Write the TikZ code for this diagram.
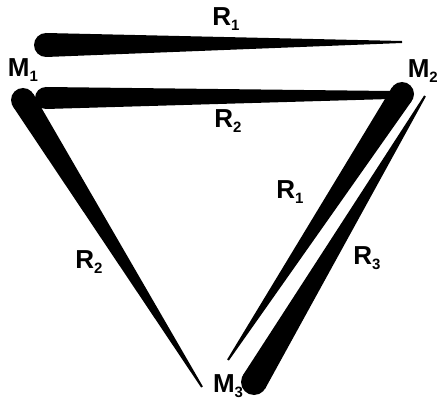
\documentclass[tikz,border=0pt]{standalone}
\usepackage{fontspec}
\setmainfont{Liberation Sans}
\usetikzlibrary{calc}
\newcommand\lbl[2]{#1\raisebox{-0.2em}{\fontsize{15}{15}\selectfont #2}}
\newcommand\taper[4]{%
  \fill[black] (#1) circle (#3pt);
  \fill[black] ($(#1)!#3pt!90:(#2)$) -- ($(#2)!#4pt!-90:(#1)$) -- ($(#2)!#4pt!90:(#1)$) -- ($(#1)!#3pt!-90:(#2)$) -- cycle;}
\begin{document}
\begin{tikzpicture}[x=1pt,y=-1pt,
  lab/.style={inner sep=0pt,font=\fontsize{26}{26}\selectfont\bfseries}]
\fill[white] (0,0) rectangle (439,401);
\useasboundingbox (0,0) rectangle (439,401);
% vertex labels
\node[lab] (m1) at (23,70) {\lbl{M}{1}};
\node[lab,anchor=east] (m2) at (438,71) {\lbl{M}{2}};
\node[lab] (m3) at (228,386) {\lbl{M}{3}};
% edge labels
\node[lab] (r1a) at (226,19) {\lbl{R}{1}};
\node[lab] (r2a) at (228,121) {\lbl{R}{2}};
\node[lab] (r1b) at (290,192) {\lbl{R}{1}};
\node[lab] (r2b) at (89,262) {\lbl{R}{2}};
\node[lab] (r3) at (367,258) {\lbl{R}{3}};
% endpoints
\coordinate (a1) at (46,45);  \coordinate (b1) at (402,42);
\coordinate (a2) at (46,98);  \coordinate (b2) at (390,95);
\coordinate (a3) at (23,100); \coordinate (b3) at (202,387);
\coordinate (a4) at (402,94); \coordinate (b4) at (228,360);
\coordinate (a5) at (254,382); \coordinate (b5) at (425,96);
% tapered connectors
\taper{a1}{b1}{12}{1}
\taper{a2}{b2}{11}{4}
\taper{a3}{b3}{12}{1}
\taper{a4}{b4}{12}{1}
\taper{a5}{b5}{13}{1}
\end{tikzpicture}
\end{document}
